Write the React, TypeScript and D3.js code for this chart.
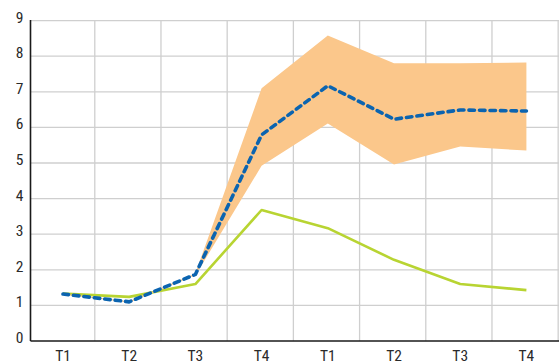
import React from "react";
import * as d3 from "d3";

const categories = ["T1", "T2", "T3", "T4", "T1", "T2", "T3", "T4"];
const yTicks = [0, 1, 2, 3, 4, 5, 6, 7, 8, 9];
const greenSeries = [1.33, 1.24, 1.6, 3.68, 3.17, 2.28, 1.6, 1.43];
const blueSeries = [1.32, 1.1, 1.87, 5.79, 7.17, 6.23, 6.49, 6.46];
const bandUpper = [null, null, 1.9, 7.1, 8.58, 7.8, 7.8, 7.82];
const bandLower = [null, null, 1.84, 4.92, 6.11, 4.96, 5.46, 5.35];

const W = 559;
const H = 362;
const axisX = 30.5;
const font = "'Liberation Sans Narrow', 'Roboto Condensed', Roboto, sans-serif";

export default function App() {
  const x = d3.scaleLinear().domain([0, 7]).range([63, 526.4]);
  const y = d3.scaleLinear().domain([0, 9]).range([341, 20.6]);

  const idx = categories.map((_, i) => i);
  const vGrid = idx.map((i) => i + 0.48);

  const bandData = idx.filter((i) => bandUpper[i] != null);
  const area = d3
    .area<number>()
    .x((i) => x(i))
    .y0((i) => y(bandLower[i] as number))
    .y1((i) => y(bandUpper[i] as number));
  const line = (vals: number[]) =>
    d3
      .line<number>()
      .x((i) => x(i))
      .y((i) => y(vals[i]))(idx) as string;

  return (
    <svg
      width={W}
      height={H}
      style={{ position: "absolute", left: 0, top: 0, background: "#fff" }}
    >
      {yTicks.slice(1).map((t) => (
        <line key={"h" + t} x1={axisX} x2={W} y1={y(t)} y2={y(t)} stroke="#cfcfcf" strokeWidth={1.3} />
      ))}
      {vGrid.map((g) => (
        <line key={"v" + g} x1={x(g)} x2={x(g)} y1={y(9)} y2={y(0)} stroke="#cfcfcf" strokeWidth={1.3} />
      ))}
      <path d={area(bandData) as string} fill="#fbc78b" />
      <path d={line(greenSeries)} fill="none" stroke="#b8d432" strokeWidth={2.6} strokeLinejoin="round" />
      <path d={line(blueSeries)} fill="none" stroke="#fbc78b" strokeWidth={1.2} />
      <path
        d={line(blueSeries)}
        fill="none"
        stroke="#0b64b0"
        strokeWidth={3.6}
        strokeDasharray="5.5 5"
        strokeLinecap="round"
        strokeLinejoin="round"
      />
      <line x1={axisX} x2={axisX} y1={y(9) - 0.5} y2={y(0)} stroke="#1a1a1a" strokeWidth={1.6} />
      <line x1={axisX} x2={W} y1={y(0)} y2={y(0)} stroke="#1a1a1a" strokeWidth={1.6} />
      {yTicks.map((t) => (
        <text
          key={"yl" + t}
          x={19.5}
          y={y(t) - 3.5}
          dy="0.35em"
          textAnchor="middle"
          fontFamily={font}
          fontSize={15.5}
          fill="#2a2a2a"
        >
          {t}
        </text>
      ))}
      {categories.map((c, i) => (
        <text
          key={"xl" + i}
          x={x(i)}
          y={360.5}
          textAnchor="middle"
          fontFamily={font}
          fontSize={15.5}
          fill="#2a2a2a"
        >
          {c}
        </text>
      ))}
    </svg>
  );
}
